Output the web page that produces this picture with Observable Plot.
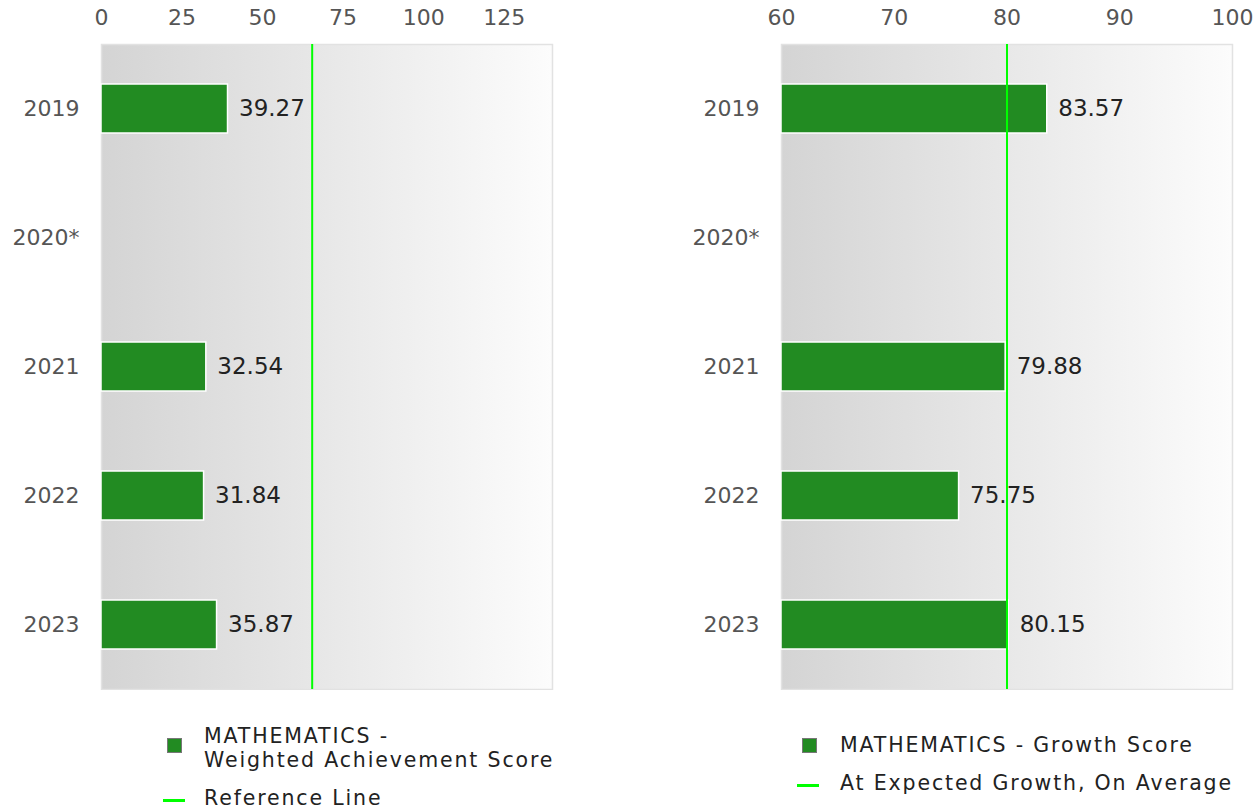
<!DOCTYPE html>
<html>
<head>
<meta charset="utf-8">
<script src="https://cdn.jsdelivr.net/npm/d3@7"></script>
<script src="https://cdn.jsdelivr.net/npm/@observablehq/plot@0.6"></script>
<style>
  html, body { margin: 0; padding: 0; background: #fff; }
  body { font-family: "DejaVu Sans", sans-serif; }
  #wrap { position: relative; width: 1259px; height: 811px; overflow: hidden; }
  .panel { position: absolute; top: 0; }
  .legend { position: absolute; font-family: "DejaVu Sans", sans-serif; font-size: 20.5px; letter-spacing: 1.85px; color: #222; line-height: 24px; }
  .item { position: absolute; white-space: nowrap; }
  .sw { position: absolute; width: 13px; height: 13px; background: #228B22; border: 1px solid #777; }
  .ln { position: absolute; width: 22px; height: 3px; background: #00ff00; }
</style>
</head>
<body>
<div id="wrap"></div>
<script>
const years = ["2019", "2020*", "2021", "2022", "2023"];
const achievement = [39.27, null, 32.54, 31.84, 35.87];
const growth = [83.57, null, 79.88, 75.75, 80.15];
const achievementRef = 65.4;
const growthRef = 80;
const achievementTicks = [0, 25, 50, 75, 100, 125];
const growthTicks = [60, 70, 80, 90, 100];
const achievementDomain = [0, 140];
const growthDomain = [60, 100];
const legendLeft = ["MATHEMATICS -\nWeighted Achievement Score", "Reference Line"];
const legendRight = ["MATHEMATICS - Growth Score", "At Expected Growth, On Average"];

function gradientDefs(id) {
  return () => {
    const defs = d3.create("svg:defs");
    const g = defs.append("linearGradient").attr("id", id).attr("x1", "0").attr("x2", "1").attr("y1", "0").attr("y2", "0");
    g.append("stop").attr("offset", "0%").attr("stop-color", "#d4d4d4");
    g.append("stop").attr("offset", "100%").attr("stop-color", "#fcfcfc");
    return defs.node();
  };
}

function panel(values, domain, ticks, refValue, id) {
  const data = years.map((y, i) => ({year: y, value: values[i]})).filter(d => d.value != null);
  return Plot.plot({
    width: 579,
    height: 690,
    marginLeft: 101,
    marginRight: 27,
    marginTop: 44,
    marginBottom: 1,
    style: {fontFamily: "'DejaVu Sans', sans-serif", fontSize: "22px", background: "transparent"},
    x: {domain, axis: "top", ticks, tickSize: 0, tickPadding: 20, label: null},
    y: {domain: years, tickSize: 0, tickPadding: 22, label: null, padding: 0},
    marks: [
      gradientDefs(id),
      Plot.frame({fill: `url(#${id})`, stroke: "#e2e2e2", strokeWidth: 1.5}),
      Plot.barX(data, {y: "year", x1: domain[0], x2: "value", fill: "#228B22", stroke: "#ffffff", strokeWidth: 1.5, insetTop: 40, insetBottom: 40}),
      Plot.ruleX([refValue], {stroke: "#00ff00", strokeWidth: 2}),
      Plot.text(data, {y: "year", x: "value", text: d => d.value.toFixed(2), dx: 11, textAnchor: "start", fill: "#222", fontSize: 23})
    ]
  });
}

const wrap = document.getElementById("wrap");
const left = panel(achievement, achievementDomain, achievementTicks, achievementRef, "gradL");
left.classList.add("panel");
left.style.left = "0px";
wrap.appendChild(left);
const right = panel(growth, growthDomain, growthTicks, growthRef, "gradR");
right.classList.add("panel");
right.style.left = "680px";
wrap.appendChild(right);

for (const svg of [left, right]) {
  d3.select(svg).selectAll("g[aria-label$='tick label'] text").attr("fill", "#555");
}

function legend(y, items, o) {
  const div = document.createElement("div");
  div.className = "legend";
  div.style.left = "0px";
  div.style.top = y + "px";
  const [barLabel, lineLabel] = items;
  div.innerHTML = `
    <div class="sw" style="left:${o.sw}px; top:${o.swTop}px"></div>
    <div class="item" style="left:${o.text}px; top:0px">${barLabel.split("\n").join("<br>")}</div>
    <div class="ln" style="left:${o.ln}px; top:${o.lnTop}px"></div>
    <div class="item" style="left:${o.text}px; top:${o.line2}px">${lineLabel}</div>`;
  wrap.appendChild(div);
}
legend(723.5, legendLeft, {sw: 167, swTop: 14, text: 204, ln: 163, lnTop: 75, line2: 62});
legend(732.5, legendRight, {sw: 802, swTop: 5, text: 840, ln: 797, lnTop: 51, line2: 38});
</script>
</body>
</html>
